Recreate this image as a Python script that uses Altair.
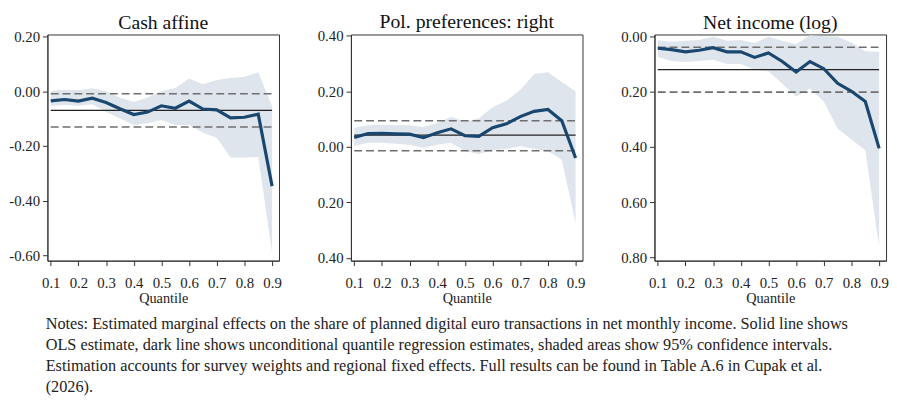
import altair as alt
import pandas as pd

quantiles = [0.10, 0.15, 0.20, 0.25, 0.30, 0.35, 0.40, 0.45, 0.50,
             0.55, 0.60, 0.65, 0.70, 0.75, 0.80, 0.85, 0.90]
x_ticks = [0.1, 0.2, 0.3, 0.4, 0.5, 0.6, 0.7, 0.8, 0.9]

# Panel 1: Cash affine
cash_est = [-0.035, -0.030, -0.036, -0.025, -0.041, -0.064, -0.085, -0.076, -0.053,
            -0.062, -0.036, -0.065, -0.068, -0.097, -0.095, -0.084, -0.347]
cash_lo = [-0.053, -0.050, -0.053, -0.047, -0.076, -0.100, -0.123, -0.117, -0.105,
           -0.123, -0.123, -0.152, -0.170, -0.242, -0.242, -0.240, -0.590]
cash_hi = [0.002, 0.006, 0.004, 0.011, 0.000, -0.023, -0.039, -0.023, 0.000,
           0.012, 0.047, 0.026, 0.041, 0.049, 0.053, 0.070, -0.055]
cash_ols = [-0.070, -0.131, -0.009]  # estimate, lower, upper

# Panel 2: Pol. preferences: right
pol_est = [0.034, 0.048, 0.049, 0.047, 0.046, 0.033, 0.051, 0.065, 0.040,
           0.038, 0.069, 0.083, 0.109, 0.128, 0.135, 0.094, -0.040]
pol_lo = [0.003, 0.015, 0.015, 0.011, 0.008, -0.003, 0.008, 0.015, -0.015,
          -0.026, -0.011, -0.008, 0.003, -0.008, -0.015, -0.046, -0.274]
pol_hi = [0.069, 0.078, 0.080, 0.078, 0.078, 0.072, 0.086, 0.109, 0.091,
          0.103, 0.143, 0.166, 0.206, 0.263, 0.269, 0.234, 0.200]
pol_ols = [0.042, -0.014, 0.094]

# Panel 3: Net income (log)
inc_est = [-0.042, -0.047, -0.055, -0.049, -0.040, -0.055, -0.055, -0.075, -0.059,
           -0.090, -0.128, -0.090, -0.116, -0.169, -0.198, -0.235, -0.405]
inc_lo = [-0.073, -0.088, -0.092, -0.088, -0.084, -0.099, -0.099, -0.119, -0.125,
          -0.171, -0.217, -0.188, -0.235, -0.333, -0.373, -0.412, -0.761]
inc_hi = [-0.013, -0.018, -0.015, -0.012, 0.000, -0.015, -0.012, -0.023, 0.000,
          -0.015, -0.027, 0.005, 0.002, 0.000, -0.021, -0.053, -0.055]
inc_ols = [-0.119, -0.201, -0.038]

titles = ["Cash affine", "Pol. preferences: right", "Net income (log)"]
y_domains = [[-0.62, 0.208], [-0.41, 0.405], [-0.812, 0.008]]
y_ticks = [[-0.6, -0.4, -0.2, 0.0, 0.2],
           [-0.4, -0.2, 0.0, 0.2, 0.4],
           [-0.8, -0.6, -0.4, -0.2, 0.0]]
label_exprs = [
    "(datum.value < -0.0001 ? '-' : '') + format(abs(datum.value), '.2f')",
    "format(abs(datum.value), '.2f')",
    "format(abs(datum.value), '.2f')",
]

notes = [
    "Notes: Estimated marginal effects on the share of planned digital euro transactions in net monthly income. Solid line shows",
    "OLS estimate, dark line shows unconditional quantile regression estimates, shaded areas show 95% confidence intervals.",
    "Estimation accounts for survey weights and regional fixed effects. Full results can be found in Table A.6 in Cupak et al.",
    "(2026).",
]

LINE = "#1a476f"
BAND = "#dfe5ec"
SERIF = "Liberation Serif"


def panel(title, est, lo, hi, ols, ydom, yt, lexpr):
    df = pd.DataFrame({"q": quantiles, "est": est, "lo": lo, "hi": hi})
    ref = pd.DataFrame({"y": ols, "kind": ["ols", "ci", "ci"],
                        "x1": [0.1] * 3, "x2": [0.9] * 3})
    xscale = alt.Scale(domain=[0.088, 0.925], nice=False, zero=False)
    yscale = alt.Scale(domain=ydom, nice=False, zero=False)
    xaxis = alt.Axis(values=x_ticks, format=".1f", title="Quantile", grid=False,
                     labelPadding=10)
    yaxis = alt.Axis(values=yt, labelExpr=lexpr, title=None, grid=False,
                     minExtent=38, maxExtent=38, labelPadding=3)

    def X(f):
        return alt.X(f, type="quantitative", scale=xscale, axis=xaxis, title="Quantile")

    def Y(f):
        return alt.Y(f, type="quantitative", scale=yscale, axis=yaxis, title=None)

    band = alt.Chart(df).mark_area(color=BAND, opacity=1).encode(
        x=X("q"), y=Y("lo"), y2="hi")
    ci = alt.Chart(ref[ref.kind == "ci"]).mark_rule(
        color="#6f6f6f", strokeWidth=1.6, strokeDash=[8, 4]).encode(
        x=X("x1"), x2="x2", y=Y("y"))
    olsl = alt.Chart(ref[ref.kind == "ols"]).mark_rule(
        color="#222222", strokeWidth=1.3).encode(
        x=X("x1"), x2="x2", y=Y("y"))
    line = alt.Chart(df).mark_line(color=LINE, strokeWidth=3.2).encode(
        x=X("q"), y=Y("est"))
    return alt.layer(band, ci, olsl, line).properties(
        width=235, height=229.5,
        title=alt.TitleParams(title, font=SERIF, fontSize=20, fontWeight="normal",
                              color="#111111", offset=-3))


data = [
    (cash_est, cash_lo, cash_hi, cash_ols),
    (pol_est, pol_lo, pol_hi, pol_ols),
    (inc_est, inc_lo, inc_hi, inc_ols),
]

panels = [panel(titles[i], *data[i], y_domains[i], y_ticks[i], label_exprs[i])
          for i in range(3)]

chart = alt.hconcat(*panels, spacing=31).properties(
    padding={"left": 0, "top": 0, "right": 0, "bottom": 0},
    title=alt.TitleParams(notes, orient="bottom", anchor="start", font=SERIF,
                          fontSize=16.5, fontWeight="normal", lineHeight=21.5,
                          color="#222222", offset=11, dx=38),
).configure_view(stroke="#333333", strokeWidth=1).configure_axis(
    labelFont=SERIF, labelFontSize=15, labelColor="#222222",
    titleFont=SERIF, titleFontSize=14.5, titleFontWeight="normal", titleColor="#222222",
    tickSize=5, tickColor="#333333", domainColor="#333333",
    titlePadding=1,
)

chart.save("out.html", embed_options={"renderer": "svg", "actions": False})
